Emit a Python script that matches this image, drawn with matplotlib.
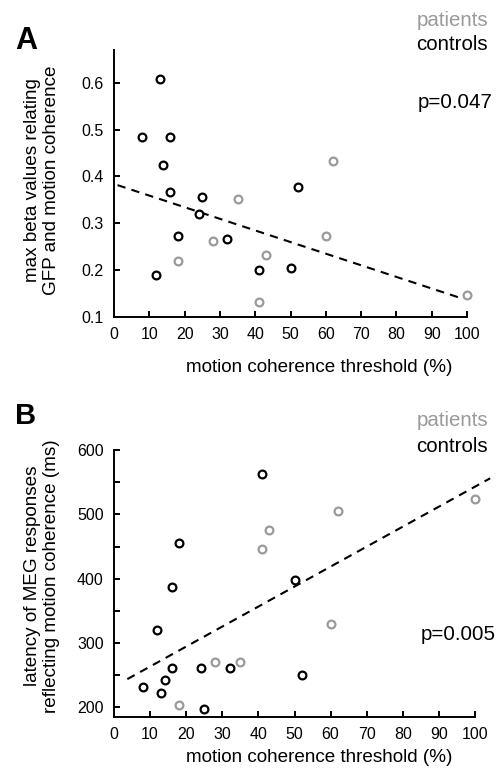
import numpy as np
import matplotlib
matplotlib.use("Agg")
import matplotlib.pyplot as plt
from matplotlib.ticker import MultipleLocator

plt.rcParams['font.family'] = ['Liberation Sans', 'DejaVu Sans']

GRAY = '#9a9a9a'

# panel A: max beta values vs motion coherence threshold
a_ctrl_x = [13, 8, 16, 14, 16, 25, 24, 18, 32, 12, 41, 50, 52]
a_ctrl_y = [0.608, 0.484, 0.484, 0.424, 0.366, 0.357, 0.320, 0.273, 0.267, 0.189, 0.200, 0.205, 0.377]
a_pat_x = [35, 62, 28, 18, 43, 60, 41, 100]
a_pat_y = [0.352, 0.432, 0.262, 0.220, 0.233, 0.273, 0.132, 0.146]
a_fit_x = [1, 98.5]
a_fit_coef = [-0.00248, 0.384]   # slope, intercept

# panel B: latency of MEG responses vs motion coherence threshold
b_ctrl_x = [41, 18, 16, 50, 12, 16, 24, 32, 14, 8, 13, 25, 52]
b_ctrl_y = [563, 456, 387, 398, 320, 261, 261, 261, 242, 232, 223, 198, 251]
b_pat_x = [100, 62, 43, 41, 60, 28, 35, 18]
b_pat_y = [524, 505, 476, 446, 330, 271, 271, 203]
b_fit_x = [3.7, 104.2]
b_fit_coef = [3.106, 232.4]

W, H = 499, 777
fig = plt.figure(figsize=(W / 100, H / 100), dpi=100)


def px(x0, y_top, x1, y_bot):
    return [x0 / W, 1 - y_bot / H, (x1 - x0) / W, (y_bot - y_top) / H]


def panel(ax, cx, cy, px_, py_, fx, coef, clip):
    ax.plot(cx, cy, 'o', ms=5.6, mfc='white', mec='black', mew=1.6, zorder=3, clip_on=False)
    ax.plot(px_, py_, 'o', ms=5.6, mfc='white', mec=GRAY, mew=1.6, zorder=3, clip_on=False)
    fx = np.array(fx)
    ax.plot(fx, np.polyval(coef, fx), color='black', lw=1.5, ls=(0, (4, 3)), clip_on=clip, zorder=2)
    ax.spines['top'].set_visible(False)
    ax.spines['right'].set_visible(False)
    for s in ['left', 'bottom']:
        ax.spines[s].set_linewidth(1.4)
    ax.set_xlim(0, 100)
    ax.xaxis.set_major_locator(MultipleLocator(10))
    ax.tick_params(which='both', direction='in', length=4, width=1.4, labelsize=11.5)
    ax.tick_params(axis='x', pad=7)
    ax.tick_params(axis='y', pad=7.5)


# ----- panel A
axA = fig.add_axes(px(114, 50, 467, 317))
panel(axA, a_ctrl_x, a_ctrl_y, a_pat_x, a_pat_y, a_fit_x, a_fit_coef, True)
axA.set_ylim(0.1, 0.67)
axA.set_yticks([0.1, 0.2, 0.3, 0.4, 0.5, 0.6])
axA.set_yticklabels(['0.1', '0.2', '0.3', '0.4', '0.5', '0.6'])

# ----- panel B
axB = fig.add_axes(px(114, 450, 475, 717))
panel(axB, b_ctrl_x, b_ctrl_y, b_pat_x, b_pat_y, b_fit_x, b_fit_coef, False)
axB.set_ylim(185, 600)
axB.yaxis.set_major_locator(MultipleLocator(100))
axB.yaxis.set_minor_locator(MultipleLocator(50))
axB.set_yticks([200, 300, 400, 500, 600])

# text
lab = 13.6
leg = 14.8


def ftext(x, y, s, **kw):
    fig.text(x / W, 1 - y / H, s, **kw)


ftext(15, 41, 'A', fontsize=22, fontweight='bold', ha='left', va='center')
ftext(15, 416, 'B', fontsize=21, fontweight='bold', ha='left', va='center')

ftext(42, 180, 'max beta values relating\nGFP and motion coherence', rotation=90,
      ha='center', va='center', multialignment='center', fontsize=lab)
ftext(42, 576, 'latency of MEG responses\nreflecting motion coherence (ms)', rotation=90,
      ha='center', va='center', multialignment='center', fontsize=lab)

ftext(319, 368, 'motion coherence threshold (%)', ha='center', va='center', fontsize=lab)
ftext(319, 757, 'motion coherence threshold (%)', ha='center', va='center', fontsize=lab)

ftext(488, 20, 'patients', color=GRAY, ha='right', va='center', fontsize=leg)
ftext(488, 45, 'controls', color='black', ha='right', va='center', fontsize=leg)
ftext(493, 102, 'p=0.047', ha='right', va='center', fontsize=leg)

ftext(488, 421, 'patients', color=GRAY, ha='right', va='center', fontsize=leg)
ftext(488, 446, 'controls', color='black', ha='right', va='center', fontsize=leg)
ftext(496, 635, 'p=0.005', ha='right', va='center', fontsize=leg)

fig.savefig('out.png', dpi=100)
